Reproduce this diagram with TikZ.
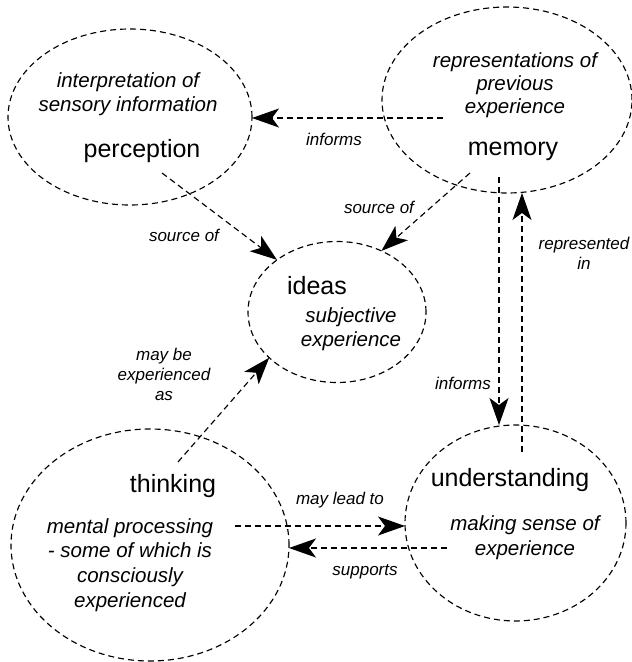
\documentclass[tikz,border=0pt]{standalone}
\usepackage{fontspec}
\setmainfont{Liberation Sans}
\usetikzlibrary{shapes.geometric,arrows.meta}
\begin{document}
\begin{tikzpicture}[x=1pt,y=-1pt,
  blob/.style={ellipse,draw,dash pattern=on 6pt off 4pt,line width=1.15pt,inner sep=0pt,outer sep=0pt},
  title/.style={font=\fontsize{25}{28}\selectfont,inner sep=0pt},
  desc/.style={font=\fontsize{20.5}{24}\selectfont\itshape,align=center,inner sep=0pt},
  lbl/.style={font=\fontsize{17}{20}\selectfont\itshape,align=center,inner sep=0pt},
  link/.style={dash pattern=on 6pt off 4pt,line width=1.15pt,-{Stealth[length=27pt,width=19pt,inset=7pt]}}]
\useasboundingbox (0,0) rectangle (632,662);

% ellipses
\node[blob,minimum width=244pt,minimum height=176pt] (perc) at (130,117) {};
\node[blob,minimum width=250pt,minimum height=186pt] (mem) at (507,100) {};
\node[blob,minimum width=178pt,minimum height=141pt] (ideas) at (337,312) {};
\node[blob,minimum width=278pt,minimum height=232pt] (think) at (150,545) {};
\node[blob,minimum width=221pt,minimum height=196pt] (und) at (515.5,523) {};

% texts
\node[desc] (percd) at (128,94) {interpretation of\\sensory information};
\node[title] (perct) at (142,151) {perception};
\node[desc,font=\fontsize{20.5}{23}\selectfont\itshape] (memd) at (515,85) {representations of\\previous\\experience};
\node[title] (memt) at (513,151) {memory};
\node[title] (ideast) at (317,286) {ideas};
\node[desc] (ideasd) at (351,329) {subjective\\experience};
\node[title] (thinkt) at (173,486) {thinking};
\node[desc,font=\fontsize{20.5}{24.7}\selectfont\itshape] (thinkd) at (130,565) {mental processing\\- some of which is\\consciously\\experienced};
\node[title] (undt) at (510,480) {understanding};
\node[desc,font=\fontsize{20.5}{25}\selectfont\itshape] (undd) at (525,537.5) {making sense of\\experience};

% start points of connectors
\coordinate (s1) at (443,118);
\coordinate (s2) at (162,173);
\coordinate (s3) at (470,173);
\coordinate (s4) at (499,177);
\coordinate (s5) at (522,452);
\coordinate (s6) at (178,462);
\coordinate (s7) at (235,526);
\coordinate (s8) at (447,548);

% connectors
\draw[link] (s1) -- (s1 -| perc.east);
\draw[link] (s2) -- (ideas.139);
\draw[link] (s3) -- (ideas.54);
\draw[link] (s4) -- (s4 |- und.north);
\draw[link] (s5) -- (s5 |- mem.south);
\draw[link] (s6) -- (ideas.214);
\draw[link] (s7) -- (s7 -| und.west);
\draw[link] (s8) -- (s8 -| think.east);

% labels
\node[lbl] (l1) at (334,139) {informs};
\node[lbl] (l2) at (184,235) {source of};
\node[lbl] (l3) at (379,207) {source of};
\node[lbl] (l4) at (463,383) {informs};
\node[lbl] (l5) at (584,253) {represented\\in};
\node[lbl] (l6) at (164,374) {may be\\experienced\\as};
\node[lbl] (l7) at (340,500) {may lead to};
\node[lbl] (l8) at (365,572) {supports};
\end{tikzpicture}
\end{document}
